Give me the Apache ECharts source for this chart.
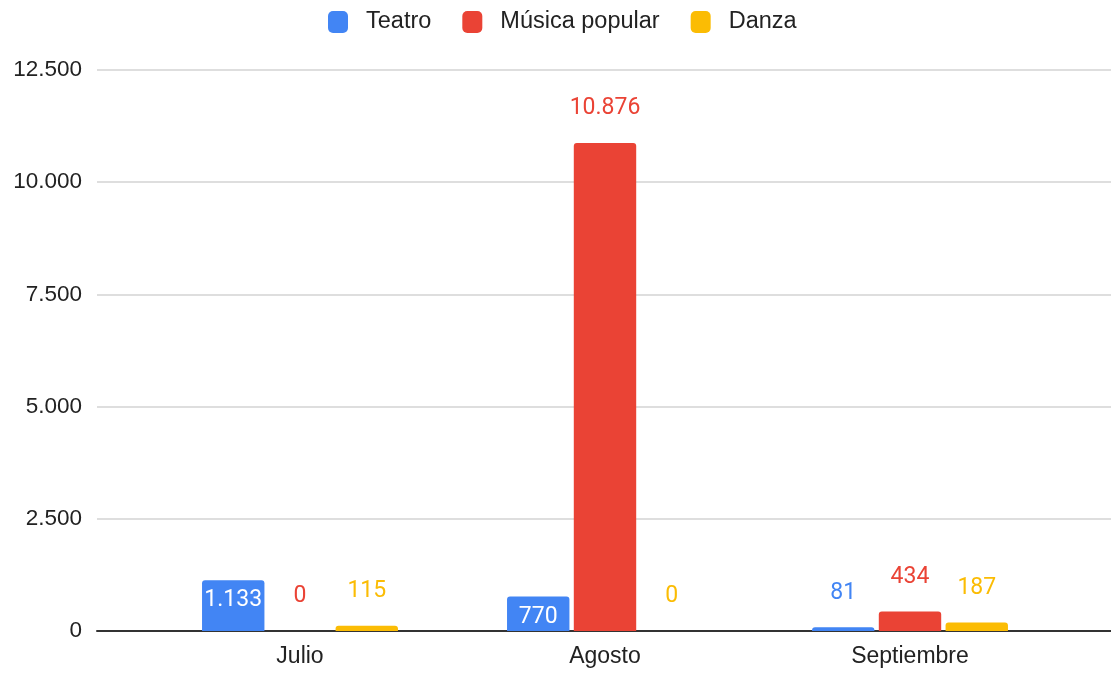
<!DOCTYPE html>
<html lang="es">
<head>
<meta charset="UTF-8">
<title>Asistentes por mes</title>
<style>
  html, body { margin: 0; padding: 0; background: #fff; }
  #chart { width: 1111px; height: 673px; }
</style>
</head>
<body>
<div id="chart"></div>
<script src="https://cdn.jsdelivr.net/npm/echarts@6/dist/echarts.min.js"></script>
<script>
// datos
var meses = ['Julio', 'Agosto', 'Septiembre'];
var teatro = [1133, 770, 81];
var musica = [0, 10876, 434];
var danza = [115, 0, 187];
var ejeY = [0, 2500, 5000, 7500, 10000, 12500];

var colores = ['#4285F4', '#EA4335', '#FBBC04'];

// separador de miles con punto
function miles(v) {
  return String(v).replace(/\B(?=(\d{3})+(?!\d))/g, '.');
}

// etiqueta dentro de la barra cuando cabe (solo Teatro), si no encima
function etiquetas(valores, color, dentro) {
  return valores.map(function (v) {
    var cabe = dentro && v > 500;
    return {
      value: v,
      label: {
        show: true,
        position: cabe ? 'insideTop' : 'top',
        distance: cabe ? 9 : 23,
        color: cabe ? '#fff' : color
      }
    };
  });
}

var chart = echarts.init(document.getElementById('chart'));

var etiquetaBase = {
  show: true,
  fontFamily: 'Roboto',
  fontSize: 23,
  formatter: function (p) { return miles(p.value); }
};

var option = {
  animation: false,
  color: colores,
  legend: {
    left: 328,
    top: 10,
    padding: 0,
    itemWidth: 20,
    itemHeight: 22,
    itemGap: 31,
    itemStyle: { borderRadius: 3 },
    textStyle: { fontFamily: 'Liberation Sans, Arial', fontSize: 23.5, color: '#222', padding: [0, 0, 0, 13] },
    data: ['Teatro', 'Música popular', 'Danza']
  },
  grid: [
    { left: 97, right: 0, top: 70, bottom: 42 },
    { left: 147.5, right: 48.5, top: 70, bottom: 42 }
  ],
  xAxis: [
    {
      type: 'category', gridIndex: 0, data: meses,
      axisLine: { lineStyle: { color: '#333', width: 2 } },
      axisTick: { show: false }, axisLabel: { show: false }
    },
    {
      type: 'category', gridIndex: 1, data: meses,
      axisLine: { show: false }, axisTick: { show: false },
      axisLabel: { fontFamily: 'Liberation Sans, Arial', fontSize: 23, color: '#222', margin: 14 }
    }
  ],
  yAxis: [
    {
      type: 'value', gridIndex: 0,
      min: ejeY[0], max: ejeY[ejeY.length - 1], interval: ejeY[1] - ejeY[0],
      axisLine: { show: false }, axisTick: { show: false },
      axisLabel: { fontFamily: 'Liberation Sans, Arial', fontSize: 22.5, color: '#222', margin: 15, formatter: miles },
      splitLine: { lineStyle: { color: '#d3d3d3', width: 1.5 } }
    },
    {
      type: 'value', gridIndex: 1,
      min: ejeY[0], max: ejeY[ejeY.length - 1], interval: ejeY[1] - ejeY[0],
      show: false, splitLine: { show: false }
    }
  ],
  series: [
    {
      name: 'Teatro', type: 'bar', xAxisIndex: 1, yAxisIndex: 1,
      barWidth: 62.4, barGap: '7%',
      itemStyle: { borderRadius: [3, 3, 0, 0] },
      label: etiquetaBase,
      data: etiquetas(teatro, colores[0], true)
    },
    {
      name: 'Música popular', type: 'bar', xAxisIndex: 1, yAxisIndex: 1,
      barWidth: 62.4, barGap: '7%',
      itemStyle: { borderRadius: [3, 3, 0, 0] },
      label: etiquetaBase,
      data: etiquetas(musica, colores[1], false)
    },
    {
      name: 'Danza', type: 'bar', xAxisIndex: 1, yAxisIndex: 1,
      barWidth: 62.4, barGap: '7%',
      itemStyle: { borderRadius: [3, 3, 0, 0] },
      label: etiquetaBase,
      data: etiquetas(danza, colores[2], false)
    }
  ]
};

chart.setOption(option);
</script>
</body>
</html>
